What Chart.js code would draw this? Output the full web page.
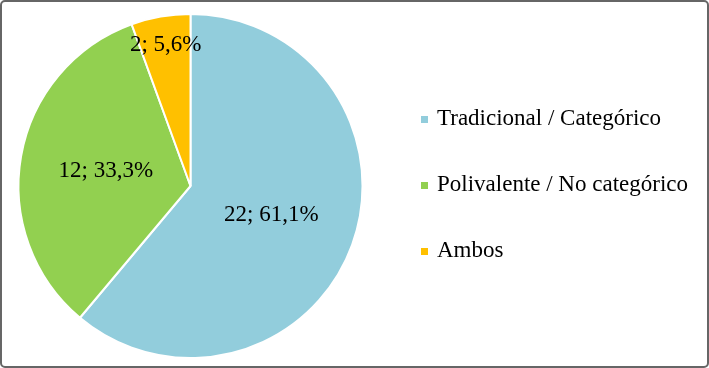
<!DOCTYPE html>
<html>
<head>
<meta charset="utf-8">
<script src="https://cdn.jsdelivr.net/npm/chart.js@4"></script>
<style>
  html, body { margin: 0; padding: 0; background: #fff; }
  #wrap { width: 709px; height: 368px; position: relative; }
</style>
</head>
<body>
<div id="wrap"><canvas id="grafico"></canvas></div>
<script>
const labels = ['Tradicional / Categórico', 'Polivalente / No categórico', 'Ambos']
const counts = [22, 12, 2]
const percents = ['61,1%', '33,3%', '5,6%']
const colors = ['#92CDDC', '#92D050', '#FFC000']

const FONT = '23px "Liberation Serif", "Times New Roman", serif'

// etiquetas "n; %" dentro de cada sector
const sliceLabels = {
    id: 'sliceLabels',
    afterDatasetsDraw(chart) {
        const ctx = chart.ctx
        const meta = chart.getDatasetMeta(0)
        const total = counts.reduce((a, b) => a + b, 0)
        ctx.save()
        ctx.font = FONT
        ctx.fillStyle = '#000'
        ctx.textAlign = 'center'
        ctx.textBaseline = 'middle'
        meta.data.forEach((arc, i) => {
            const {x, y, startAngle, endAngle, outerRadius} = arc.getProps(['x', 'y', 'startAngle', 'endAngle', 'outerRadius'], true)
            const mid = (startAngle + endAngle) / 2
            const f = counts[i] / total < 0.1 ? 0.83 : 0.5
            ctx.fillText(counts[i] + '; ' + percents[i], x + Math.cos(mid) * outerRadius * f, y + Math.sin(mid) * outerRadius * f)
        })
        ctx.restore()
    }
}

// leyenda a la derecha y marco
const sideLegend = {
    id: 'sideLegend',
    afterDraw(chart) {
        const ctx = chart.ctx
        ctx.save()
        ctx.font = FONT
        ctx.textBaseline = 'middle'
        labels.forEach((lab, i) => {
            const y = 119 + i * 66
            ctx.fillStyle = colors[i]
            ctx.fillRect(421, y - 3, 7, 7)
            ctx.fillStyle = '#000'
            ctx.fillText(lab, 437, y)
        })
        ctx.strokeStyle = '#666'
        ctx.lineWidth = 2
        ctx.beginPath()
        ctx.roundRect(1, 1, chart.width - 2, chart.height - 2, 4)
        ctx.stroke()
        ctx.restore()
    }
}

new Chart(document.getElementById('grafico'), {
    type: 'pie',
    data: {
        labels: labels,
        datasets: [{
            data: counts,
            backgroundColor: colors,
            borderColor: '#fff',
            borderWidth: 2
        }]
    },
    options: {
        responsive: true,
        maintainAspectRatio: false,
        animation: false,
        layout: { padding: { left: 17, top: 13, right: 345, bottom: 9 } },
        plugins: {
            legend: { display: false },
            tooltip: { enabled: false }
        }
    },
    plugins: [sliceLabels, sideLegend]
})
</script>
</body>
</html>
